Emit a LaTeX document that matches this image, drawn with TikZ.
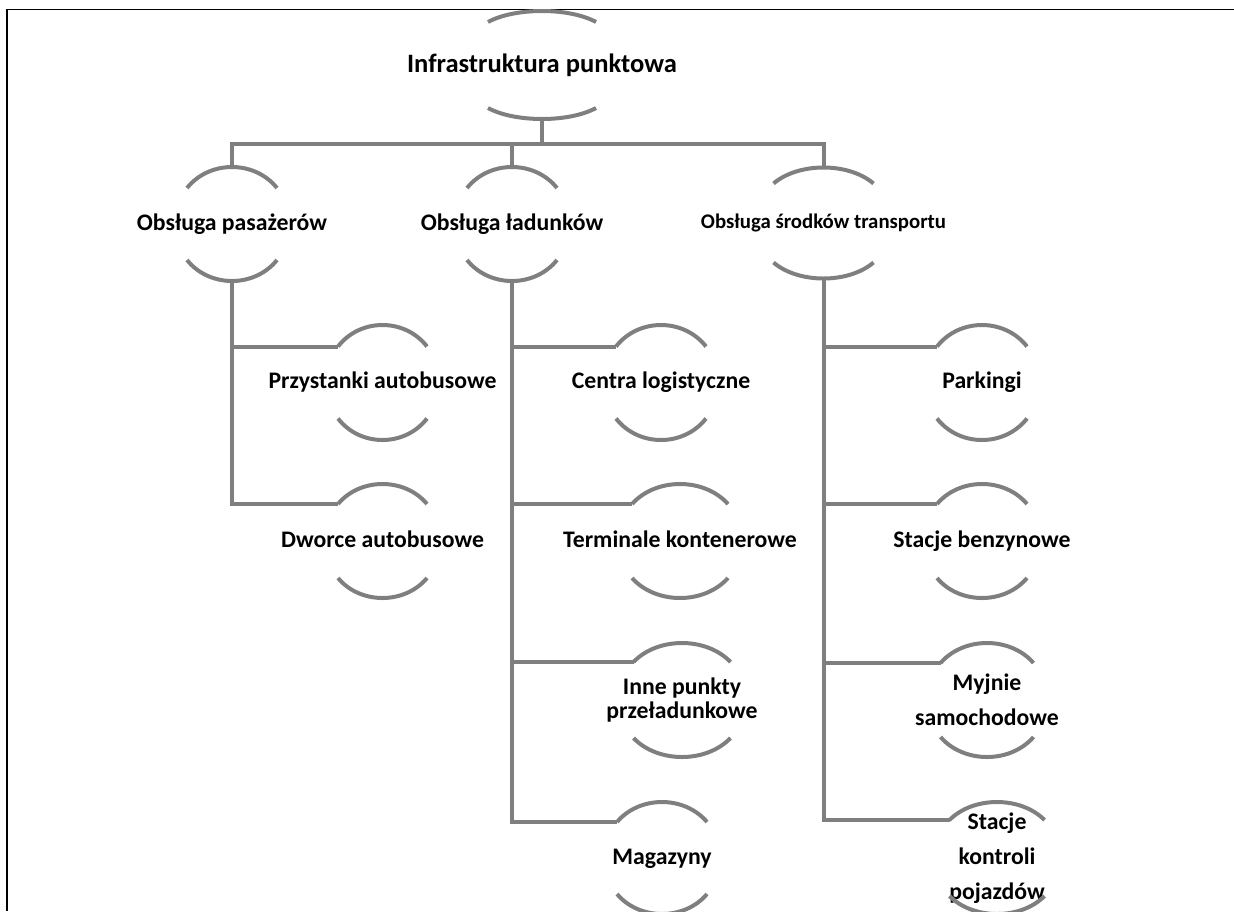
\documentclass[tikz,border=0pt]{standalone}
\usepackage{fontspec}
\setmainfont{Carlito}
\usetikzlibrary{calc}

\definecolor{linkgray}{RGB}{127,127,127}
\tikzset{every picture/.style={line width=0.75pt}}
\tikzset{
  link/.style={draw=linkgray, line width=3pt},
  arcstroke/.style={draw=linkgray, line width=3pt},
  lbl/.style={inner sep=0.75pt, align=center, font=\bfseries\fontsize{17.8}{18}\selectfont},
  oneline/.style={lbl, text height=13pt, text depth=4pt},
  rootlbl/.style={lbl, font=\bfseries\fontsize{19.9}{22}\selectfont},
  smalllbl/.style={lbl, font=\bfseries\fontsize{15.6}{18}\selectfont},
}

% top and bottom arc round a label: node, half width, drop of the ends, rise of the apex
\newcommand{\capsarcs}[4]{%
  \coordinate (#1-top) at ($(#1.center)+(0,-#4)$);
  \coordinate (#1-bot) at ($(#1.center)+(0,#4)$);
  \coordinate (#1-in) at ($(#1.center)+(-#2,-#3)$);
  \draw [arcstroke] (#1-in) .. controls ($(#1.center)+(-#2/2,{-(4*#4-#3)/3})$) and ($(#1.center)+(#2/2,{-(4*#4-#3)/3})$) .. ($(#1.center)+(#2,-#3)$);
  \draw [arcstroke] ($(#1.center)+(-#2,#3)$) .. controls ($(#1.center)+(-#2/2,{(4*#4-#3)/3})$) and ($(#1.center)+(#2/2,{(4*#4-#3)/3})$) .. ($(#1.center)+(#2,#3)$);
}

\begin{document}
\begin{tikzpicture}[x=0.75pt,y=0.75pt,yscale=-1,xscale=1]
\useasboundingbox (0,0) rectangle (1234,911);
\clip (0,0) rectangle (1234,911);

%Straight Lines [frame]
\draw [line width=1.1pt] (7,911) -- (7,9.5) -- (1234,9.5);

% Text Node
\draw (542,65) node [rootlbl] (root) {Infrastruktura punktowa};
% Text Node
\draw (232,224) node [oneline] (pas) {Obsługa pasażerów};
% Text Node
\draw (512,224) node [oneline] (lad) {Obsługa ładunków};
% Text Node
\draw (823.5,223) node [smalllbl] (srod) {Obsługa środków transportu};
% Text Node
\draw (382.5,382.5) node [oneline] (prz) {Przystanki autobusowe};
% Text Node
\draw (382.5,541) node [oneline] (dwo) {Dworce autobusowe};
% Text Node
\draw (661,382.5) node [oneline] (cen) {Centra logistyczne};
% Text Node
\draw (680,541) node [oneline] (ter) {Terminale kontenerowe};
% Text Node
\draw (682,700) node [lbl] (inn) {Inne punkty\\przeładunkowe};
% Text Node
\draw (662,858) node [oneline] (mag) {Magazyny};
% Text Node
\draw (982,382.5) node [oneline] (par) {Parkingi};
% Text Node
\draw (982,541) node [oneline] (sta) {Stacje benzynowe};
% Text Node
\draw (987,700) node [lbl] (myj) {Myjnie\\[8pt]samochodowe};
% Text Node
\draw (997,858) node [lbl] (kon) {Stacje\\[8pt]kontroli\\[8pt]pojazdów};

%Curve Lines [arcs]
\capsarcs{root}{54}{43}{54}
\capsarcs{pas}{45}{36}{57}
\capsarcs{lad}{45}{36}{57}
\capsarcs{srod}{50}{39.5}{55.5}
\capsarcs{prz}{44.5}{36}{57.5}
\capsarcs{dwo}{44.5}{37}{57}
\capsarcs{cen}{45}{36}{57.5}
\capsarcs{ter}{48}{37}{57}
\capsarcs{inn}{48.5}{38}{57}
\capsarcs{mag}{45}{36}{56}
\capsarcs{par}{45}{36}{57.5}
\capsarcs{sta}{45}{37}{57}
\capsarcs{myj}{46.5}{37}{57}
\capsarcs{kon}{47.5}{38}{56}

%Straight Lines [links]
\coordinate (bar) at (542,144);
\draw [link] (root-bot) -- (bar);
\draw [link] (pas-top) |- (bar) -| (srod-top);
\draw [link] (lad-top) -- (lad-top |- bar);
\draw [link] (pas-bot) |- (prz-in);
\draw [link] (pas-bot) |- (dwo-in);
\draw [link] (lad-bot) |- (cen-in);
\draw [link] (lad-bot) |- (ter-in);
\draw [link] (lad-bot) |- (inn-in);
\draw [link] (lad-bot) |- (mag-in);
\draw [link] (srod-bot) |- (par-in);
\draw [link] (srod-bot) |- (sta-in);
\draw [link] (srod-bot) |- (myj-in);
\draw [link] (srod-bot) |- (kon-in);

\end{tikzpicture}
\end{document}
